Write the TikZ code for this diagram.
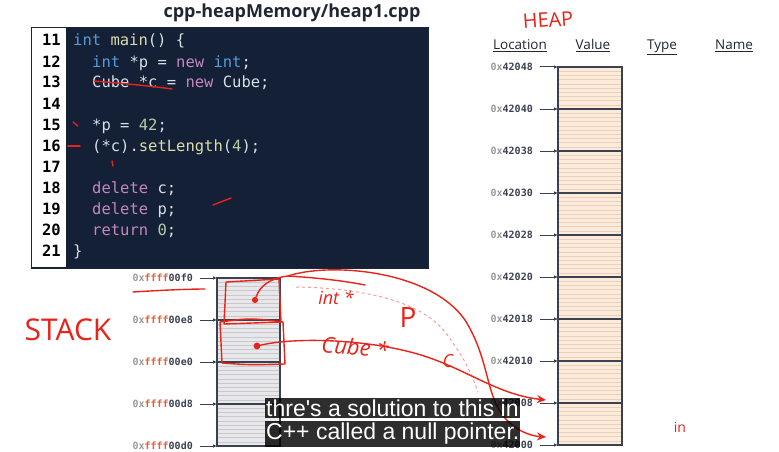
\documentclass[tikz,border=0pt]{standalone}
\usepackage{fontspec}
\setmainfont{Open Sans}
\setsansfont{Open Sans}
\setmonofont{DejaVu Sans Mono}
\newfontfamily\capfont{Liberation Sans}
\usetikzlibrary{arrows.meta,positioning,calc}
\definecolor{slink}{HTML}{1F2733}
\definecolor{codebg}{HTML}{132036}
\definecolor{kwblue}{HTML}{569CD6}
\definecolor{kwpink}{HTML}{C586C0}
\definecolor{fnyel}{HTML}{DCDCAA}
\definecolor{numgrn}{HTML}{B5CEA8}
\definecolor{codetxt}{HTML}{D8DEE6}
\definecolor{heapfill}{HTML}{FCEBDA}
\definecolor{heapline}{HTML}{E9D0BA}
\definecolor{stackfill}{HTML}{E8E8EA}
\definecolor{stackline}{HTML}{C8C8CC}
\definecolor{addrgray}{HTML}{9A9A9A}
\definecolor{addrred}{HTML}{E0603C}
\definecolor{addrdark}{HTML}{3A4150}
\definecolor{penred}{HTML}{E8241A}
\tikzset{
  codeline/.style={anchor=base west,inner sep=0pt,font=\ttfamily\fontsize{15.5}{18}\selectfont,text=codetxt},
  lineno/.style={anchor=base east,inner sep=0pt,font=\ttfamily\bfseries\fontsize{15.5}{18}\selectfont,text=black},
  colhead/.style={anchor=base,inner sep=0pt,font=\fontsize{13.5}{16}\selectfont,text=slink},
  addr/.style={anchor=east,inner sep=0pt,font=\ttfamily\bfseries\fontsize{10}{12}\selectfont,text=addrdark},
  slot/.style={-{Latex[length=4pt,width=3.5pt]},line width=1pt,draw=addrdark,shorten <=7pt},
  ink/.style={draw=penred,line width=1.4pt,line cap=round,line join=round},
  inkarrow/.style={ink,-{Stealth[length=9pt,width=8pt,open]}},
  inktext/.style={text=penred,inner sep=0pt,font=\itshape\fontsize{18}{20}\selectfont},
  subline/.style={anchor=west,fill=black,fill opacity=0.82,text opacity=1,text=white,
                  inner xsep=1pt,inner ysep=2pt,font=\capfont\fontsize{23}{26}\selectfont},
}

\begin{document}
\begin{tikzpicture}[x=1pt,y=-1pt]
  \useasboundingbox[fill=white] (0,0) rectangle (779,452);
  % title
  \node[font=\bfseries\fontsize{18}{21}\selectfont,text=slink] (title) at (292,13) {cpp-heapMemory/heap1.cpp};

  % code panel
  \draw[fill=codebg,draw=slink,line width=0.8pt] (31,27) rectangle (428,268);
  \fill[white] (32,28) rectangle (66,267);
  \foreach \n in {11,...,21}
    \node[lineno] (ln\n) at (61,{46+21*(\n-11)}) {\n};
  \node[codeline] (c11) at (73,46) {\textcolor{kwblue}{int} \textcolor{fnyel}{main}() \{};
  \node[codeline] (c12) at (92,67) {\textcolor{kwblue}{int} *p = \textcolor{kwpink}{new} \textcolor{kwblue}{int};};
  \node[codeline] (c13) at (92,88) {Cube *c = \textcolor{kwpink}{new} Cube;};
  \node[codeline] (c15) at (92,130) {*p = \textcolor{numgrn}{42};};
  \node[codeline] (c16) at (92,151) {(*c).\textcolor{fnyel}{setLength}(\textcolor{numgrn}{4});};
  \node[codeline] (c18) at (92,193) {\textcolor{kwpink}{delete} c;};
  \node[codeline] (c19) at (92,214) {\textcolor{kwpink}{delete} p;};
  \node[codeline] (c20) at (92,235) {\textcolor{kwpink}{return} \textcolor{numgrn}{0};};
  \node[codeline] (c21) at (73,256) {\}};

  % heap table
  \node[colhead] (hloc) at (520,50) {\underline{Location}};
  \node[colhead] (hval) at (593,50) {\underline{Value}};
  \node[colhead] (htyp) at (662,50) {\underline{Type}};
  \node[colhead] (hnam) at (734,50) {\underline{Name}};
  \fill[heapfill] (558,67) rectangle (622,445);
  \foreach \k in {1,...,89}
    \draw[heapline,line width=0.6pt] (558,{67+4.2*\k}) -- (622,{67+4.2*\k});
  \foreach \a [count=\i from 0] in {42048,42040,42038,42030,42028,42020,42018,42010,42008,42000} {
    \coordinate (hc\i) at (558,{67+42*\i});
    \node[addr] (h\i) at (533,{67+42*\i}) {\textcolor{addrgray}{0x}\a};
    \draw[slot] (h\i) -- (hc\i);
    \draw[addrdark,line width=1.4pt] (hc\i) -- ++(64,0);
  }
  \draw[addrdark,line width=1.2pt] (558,67) rectangle (622,445);

  % stack table
  \fill[stackfill] (217,278) rectangle (280,446);
  \foreach \k in {1,...,39}
    \draw[stackline,line width=0.6pt] (217,{278+4.2*\k}) -- (280,{278+4.2*\k});
  \foreach \a [count=\i from 0] in {f0,e8,e0,d8,d0} {
    \coordinate (sc\i) at (217,{278+42*\i});
    \node[addr] (s\i) at (193,{278+42*\i}) {\textcolor{addrgray}{0x}\textcolor{addrred}{ffff}00\a};
    \draw[slot] (s\i) -- (sc\i);
    \draw[addrdark,line width=1.4pt] (sc\i) -- ++(63,0);
  }
  \draw[addrdark,line width=1.2pt] (217,278) rectangle (280,446);

  % pen marks
  \node[inktext,font=\fontsize{20}{22}\selectfont,rotate=4] (heap) at (548,20) {HEAP};
  \node[inktext,font=\fontsize{30}{32}\selectfont] (stack) at (68,330) {STACK};
  \draw[ink] (133,292) .. controls (165,290) and (190,289) .. (205,289);
  \draw[ink] (94,81) .. controls (130,84) and (150,86) .. (172,89);
  \draw[ink] (73,122) -- (78,126);
  \draw[ink] (68,146) -- (80,146);
  \draw[ink] (112,161) -- (113,166);
  \draw[ink] (213,205) -- (231,198);
  \draw[ink] (226,282) -- (279,279) -- (281,322) -- (224,324) -- cycle;
  \draw[ink] (220,322) .. controls (250,318) .. (283,322) -- (285,364) .. controls (250,365) .. (222,363) -- cycle;
  \node[circle,fill=penred,inner sep=2.2pt] (pdot) at (255,300) {};
  \node[circle,fill=penred,inner sep=2.4pt] (cdot) at (257,346) {};
  \coordinate (pend) at (546,437);
  \coordinate (cend) at (546,400);
  \draw[penred!45,line width=1pt,dashed] (296,287) .. controls (360,288) and (420,300) .. (445,332) .. controls (465,358) and (472,375) .. (478,392);
  \draw[ink] (pdot) .. controls (260,286) and (270,278) .. (288,276) .. controls (320,278) and (345,281) .. (365,285);
  \draw[inkarrow] (288,276) .. controls (330,262) and (430,270) .. (465,320) .. controls (490,360) and (485,395) .. (505,418) .. controls (515,430) and (530,436) .. (pend);
  \draw[inkarrow] (cdot) .. controls (300,336) and (380,340) .. (430,358) .. controls (470,372) and (500,395) .. (cend);
  \node[inktext] (ptxt) at (336,298) {int *};
  \node[inktext,font=\itshape\fontsize{22}{24}\selectfont,rotate=-5] (ctxt) at (355,347) {Cube *};
  \node[inktext,font=\fontsize{28}{30}\selectfont] (plab) at (408,318) {P};
  \node[inktext] (clab) at (448,361) {C};
  \node[inktext,font=\fontsize{14}{16}\selectfont] (intxt) at (680,427) {in};

  % subtitle
  \node[subline] (sub1) at (265,408) {thre's a solution to this in};
  \node[subline] (sub2) at (265,434) {C++ called a null pointer.};
\end{tikzpicture}
\end{document}
